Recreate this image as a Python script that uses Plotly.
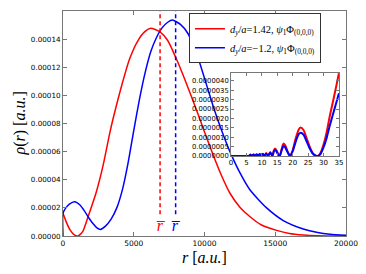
import plotly.graph_objects as go

# ---------------- main panel data ----------------
r_red = [0, 250, 500, 750, 1060, 1400, 1770, 2360, 2830, 3300, 3530, 4120, 4710, 5300,
         5800, 6200, 6830, 7400, 8010, 8700, 9420, 10000, 10600, 11200, 11800, 12500,
         13220, 14000, 15100, 16000, 17000, 18000, 19000, 20000]
rho_red = [1.61e-5, 0.95e-5, 0.43e-5, 0.12e-5, 0.0, 0.33e-5, 1.37e-5, 3.15e-5, 5.0e-5,
           7.3e-5, 8.3e-5, 10.6e-5, 12.6e-5, 13.9e-5, 14.55e-5, 14.77e-5, 14.53e-5,
           13.9e-5, 12.6e-5, 10.9e-5, 9.0e-5, 7.4e-5, 5.8e-5, 4.3e-5, 3.04e-5, 2.05e-5,
           1.37e-5, 0.8e-5, 0.4e-5, 0.18e-5, 0.07e-5, 0.02e-5, 0.005e-5, 0.0]

r_blue = [0, 0, 200, 450, 825, 1200, 1500, 1770, 2100, 2400, 2640, 3000, 3400, 3800, 4200,
          4600, 5000, 5400, 5800, 6200, 6600, 7000, 7400, 7730, 8300, 8830, 9500, 10130,
          10700, 11250, 11800, 12500, 13220, 14390, 15570, 16980, 18000, 18870, 20000]
rho_blue = [0.0, 1.62e-5, 2.0e-5, 2.27e-5, 2.44e-5, 2.2e-5, 1.8e-5, 1.37e-5, 0.9e-5,
            0.58e-5, 0.47e-5, 0.7e-5, 1.2e-5, 2.0e-5, 3.3e-5, 5.2e-5, 7.5e-5, 9.7e-5,
            11.6e-5, 13.1e-5, 14.1e-5, 14.8e-5, 15.2e-5, 15.36e-5, 15.05e-5, 14.4e-5,
            12.8e-5, 10.8e-5, 8.96e-5, 7.4e-5, 6.0e-5, 4.5e-5, 3.27e-5, 2.0e-5, 1.1e-5,
            0.5e-5, 0.25e-5, 0.13e-5, 0.05e-5]

rbar_red = 6860
rbar_blue = 7960
rbar_y = [1.55e-5, 1.6e-4]

# ---------------- inset data ----------------
x_in = [0, 5, 5.8, 6.3, 6.8, 7.3, 7.8, 8.3, 8.8, 9.3, 9.8, 10.3, 10.8, 11.4, 12.0, 12.7,
        13.4, 13.9, 14.3, 14.8, 15.3, 15.8, 16.3, 16.8, 17.1, 17.6, 18.2, 18.8, 19.2, 20.0,
        21.0, 22.0, 22.6, 23.5, 24.5, 25.5, 26.5, 27.5, 28.2, 29.0, 30.0, 31.0, 32.0, 33.0,
        34.0, 35.0]
red_in = [0, 0, 0, 0.07e-6, 0.01e-6, 0.08e-6, 0.01e-6, 0.09e-6, 0.01e-6, 0.1e-6, 0.01e-6,
          0.12e-6, 0.01e-6, 0.15e-6, 0.0, 0.21e-6, 0.0, 0.3e-6, 0.39e-6, 0.28e-6, 0.08e-6,
          0.0, 0.3e-6, 0.6e-6, 0.66e-6, 0.55e-6, 0.3e-6, 0.08e-6, 0.0, 0.3e-6, 0.95e-6,
          1.42e-6, 1.51e-6, 1.38e-6, 0.95e-6, 0.5e-6, 0.15e-6, 0.01e-6, 0.0, 0.15e-6,
          0.6e-6, 1.25e-6, 2.1e-6, 2.85e-6, 3.62e-6, 4.41e-6]
blue_in = [0, 0, 0, 0.06e-6, 0.01e-6, 0.07e-6, 0.01e-6, 0.08e-6, 0.01e-6, 0.09e-6, 0.01e-6,
           0.1e-6, 0.01e-6, 0.12e-6, 0.0, 0.17e-6, 0.0, 0.25e-6, 0.32e-6, 0.23e-6, 0.06e-6,
           0.0, 0.24e-6, 0.48e-6, 0.53e-6, 0.44e-6, 0.24e-6, 0.06e-6, 0.0, 0.25e-6, 0.78e-6,
           1.17e-6, 1.24e-6, 1.13e-6, 0.78e-6, 0.41e-6, 0.12e-6, 0.01e-6, 0.0, 0.1e-6,
           0.45e-6, 0.95e-6, 1.6e-6, 2.18e-6, 2.76e-6, 3.34e-6]

legend_red = "<i>d</i><sub><i>y</i></sub>/<i>a</i>=1.42, <i>ψ</i><sub>1</sub>Φ<sub>(0,0,0)</sub>"
legend_blue = "<i>d</i><sub><i>y</i></sub>/<i>a</i>=−1.2, <i>ψ</i><sub>1</sub>Φ<sub>(0,0,0)</sub>"

RED = "#ff0000"
BLUE = "#0000ff"
FRAME = "#777777"
SERIF = "Liberation Serif"
SANS = "DejaVu Sans"

fig = go.Figure()

fig.add_trace(go.Scatter(x=r_red, y=rho_red, mode="lines", name=legend_red,
                         line=dict(color=RED, width=1.5, shape="spline", smoothing=0.6)))
fig.add_trace(go.Scatter(x=r_blue, y=rho_blue, mode="lines", name=legend_blue,
                         line=dict(color=BLUE, width=1.5, shape="spline", smoothing=0.6)))
fig.add_trace(go.Scatter(x=[rbar_red, rbar_red], y=rbar_y, mode="lines", showlegend=False,
                         line=dict(color=RED, width=1.5, dash="4px,3px")))
fig.add_trace(go.Scatter(x=[rbar_blue, rbar_blue], y=rbar_y, mode="lines", showlegend=False,
                         line=dict(color=BLUE, width=1.5, dash="4px,3px")))

fig.add_trace(go.Scatter(x=x_in, y=red_in, mode="lines", showlegend=False, xaxis="x2", yaxis="y2",
                         line=dict(color=RED, width=2, shape="spline", smoothing=0.5)))
fig.add_trace(go.Scatter(x=x_in, y=blue_in, mode="lines", showlegend=False, xaxis="x2", yaxis="y2",
                         line=dict(color=BLUE, width=2, shape="spline", smoothing=0.5)))

axis_common = dict(showgrid=False, zeroline=False, showline=True, linecolor=FRAME, linewidth=1,
                   mirror="ticks", ticks="inside", tickcolor=FRAME, tickwidth=1)

# the page body has an 8px margin, so the figure is drawn 8px smaller and offset
fig.update_layout(
    width=358, height=266,
    margin=dict(l=55, r=20, t=3, b=38),
    paper_bgcolor="white", plot_bgcolor="white",
    xaxis=dict(range=[0, 20000], dtick=5000, tick0=0, tickformat="d", ticklen=4,
               domain=[0, 1], anchor="y", tickfont=dict(family=SANS, size=7.5, color="black"),
               **axis_common),
    yaxis=dict(range=[0, 0.00016], dtick=0.00002, tick0=0, tickformat=".5f", ticklen=4,
               domain=[0, 1], anchor="x", tickfont=dict(family=SANS, size=7.2, color="black"),
               **axis_common),
    xaxis2=dict(range=[0, 35], dtick=5, tick0=0, ticklen=3, domain=[0.594, 0.975],
                anchor="y2", tickfont=dict(family=SANS, size=7, color="black"), **axis_common),
    yaxis2=dict(range=[0, 4.42e-6], dtick=5e-7, tick0=0, tickformat=".7f", ticklen=3,
                domain=[0.356, 0.724], anchor="x2",
                tickfont=dict(family=SANS, size=6.8, color="black"), **axis_common),
    legend=dict(x=0.445, y=0.99, xanchor="left", yanchor="top", bgcolor="white",
                bordercolor="#333333", borderwidth=1, font=dict(family=SERIF, size=10.5, color="black"),
                tracegroupgap=0, itemwidth=30),
    showlegend=True,
)

fig.add_annotation(x=rbar_red, y=7.5e-6, xref="x", yref="y", text="<i>r\u0305</i>", showarrow=False,
                   font=dict(family=SERIF, size=16, color=RED))
fig.add_annotation(x=rbar_blue, y=7.5e-6, xref="x", yref="y", text="<i>r\u0305</i>", showarrow=False,
                   font=dict(family=SERIF, size=16, color=BLUE))

fig.add_annotation(x=0.5, y=-0.05, xref="paper", yref="paper", xanchor="center", yanchor="top",
                   text="<i>r</i> [<i>a.u.</i>]", showarrow=False,
                   font=dict(family=SERIF, size=16, color="black"))
fig.add_annotation(x=-0.152, y=0.5, xref="paper", yref="paper", xanchor="center", yanchor="middle",
                   text="<i>ρ</i>(<i>r</i>) [<i>a.u.</i>]", showarrow=False, textangle=-90,
                   font=dict(family=SERIF, size=16, color="black"))

fig.write_html("out.html")
